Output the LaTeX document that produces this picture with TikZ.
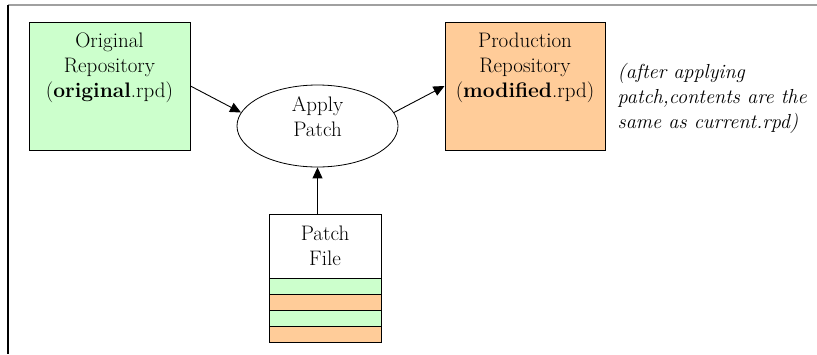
\documentclass[tikz,border=0pt]{standalone}
\usetikzlibrary{arrows.meta,positioning,shapes.geometric}
\definecolor{ink}{HTML}{000000}
\definecolor{rule}{HTML}{A0A0A0}
\definecolor{oldrepo}{HTML}{CCFFCC}
\definecolor{newrepo}{HTML}{FFCC99}

\begin{document}
\begin{tikzpicture}[x=1pt,y=-1pt,font=\rmfamily\fontsize{21}{25}\selectfont,
 repo/.style={draw=ink,line width=1pt,minimum width=161pt,minimum height=128pt,inner sep=0pt},
 flow/.style={draw=ink,line width=0.9pt,-{Triangle[length=11pt,width=10pt]}}]
\useasboundingbox (0,0) rectangle (817,354);
% frame
\draw[rule,line width=1.5pt] (8,5) -- (817,5);
\draw[ink,line width=2pt] (8,5) -- (8,354);
% the two repositories and the patch step
\node[repo,fill=oldrepo] (orig) at (109.5,86) {};
\node[align=center,text=ink] (origtext) at ([yshift=18pt]orig.center) {Original\\Repository\\(\textbf{original}.rpd)};
\node[repo,fill=newrepo,minimum width=160pt] (prod) at (525,86) {};
\node[align=center,text=ink] (prodtext) at ([yshift=18pt]prod.center) {Production\\Repository\\(\textbf{modified}.rpd)};
\node[anchor=west,inner sep=0pt,align=left,text=ink,font=\rmfamily\fontsize{20.3}{25}\selectfont\itshape] (note) at ([xshift=12pt,yshift=-12pt]prod.east) {(after applying\\patch,contents are the\\same as current.rpd)};
\node[draw=ink,line width=0.8pt,ellipse,minimum width=161pt,minimum height=82pt,inner sep=0pt] (apply) at (317.5,126) {};
\node[align=center,text=ink] (applytext) at ([yshift=9pt]apply.center) {Apply\\Patch};
% patch file with its stripes
\node[draw=ink,line width=1pt,fill=white,minimum width=112pt,minimum height=64pt,inner sep=0pt,align=center] (patch) at (325,246) {Patch\\File};
\foreach \i/\col in {1/oldrepo,2/newrepo,3/oldrepo,4/newrepo} {
 \node[draw=ink,line width=1pt,fill=\col,minimum width=112pt,minimum height=16pt,inner sep=0pt] (stripe\i) at (325,278+16*\i-8) {};
}
\draw[flow] (orig.east) -- (apply.170);
\draw[flow] (apply.10) -- (prod.west);
\draw[flow] (patch.north -| apply.south) -- (apply.south);
\end{tikzpicture}
\end{document}
